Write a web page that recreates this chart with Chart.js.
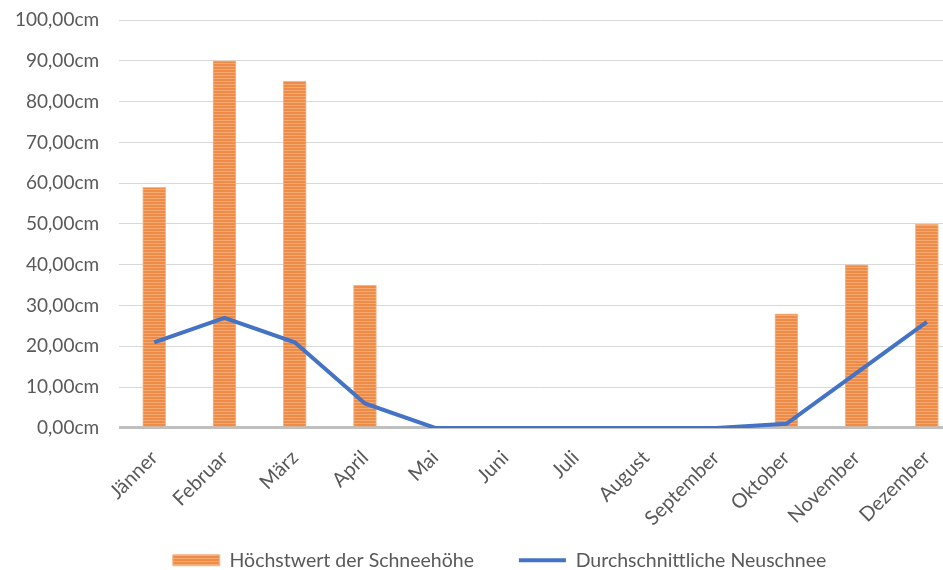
<!DOCTYPE html>
<html>
<head>
<meta charset="utf-8">
<script src="https://cdn.jsdelivr.net/npm/chart.js@4.4.1/dist/chart.umd.min.js"></script>
<style>
  html, body { margin: 0; padding: 0; background: #fff; overflow: hidden; }
  #wrap { width: 962px; height: 570px; }
</style>
</head>
<body>
<div id="wrap"><canvas id="chart" width="962" height="570"></canvas></div>
<script>
const months = ['Jänner', 'Februar', 'März', 'April', 'Mai', 'Juni', 'Juli', 'August', 'September', 'Oktober', 'November', 'Dezember'];
const maxSnowDepth = [59, 90, 85, 35, 0, 0, 0, 0, 0, 28, 40, 50];
const avgNewSnow = [21, 27, 21, 6, 0, 0, 0, 0, 0, 1, 13.5, 26];
const yTicks = [0, 10, 20, 30, 40, 50, 60, 70, 80, 90, 100];

const fontFamily = 'Lato, "Open Sans", sans-serif';
const textColor = '#595959';
const LEGEND_TRIM = 35;
const LEGEND_SHIFT = 11;

function stripes() {
    const c = document.createElement('canvas');
    c.width = 4;
    c.height = 3;
    const g = c.getContext('2d');
    g.fillStyle = '#ee8b47';
    g.fillRect(0, 0, 4, 3);
    g.fillStyle = '#f4aa72';
    g.fillRect(0, 0, 4, 1);
    return g.createPattern(c, 'repeat');
}

// legend: wide gap between items but less room above/below them
const legendGap = {
    id: 'legendGap',
    beforeLayout(chart) {
        const lg = chart.legend;
        if (!lg || lg._gapPatched) return;
        lg._gapPatched = true;
        const fit = lg.fit, draw = lg.draw;
        lg.fit = function () { fit.call(this); this.height -= LEGEND_TRIM + 10; };
        lg.draw = function () {
            this.top -= LEGEND_TRIM;
            this.left += LEGEND_SHIFT;
            this.right += LEGEND_SHIFT;
            draw.call(this);
            this.top += LEGEND_TRIM;
            this.left -= LEGEND_SHIFT;
            this.right -= LEGEND_SHIFT;
        };
    }
};

document.addEventListener('DOMContentLoaded', () => {
    const canvas = document.getElementById('chart');
    const pattern = stripes();

    new Chart(canvas, {
        data: {
            labels: months,
            datasets: [{
                type: 'bar',
                label: 'Höchstwert der Schneehöhe',
                data: maxSnowDepth,
                backgroundColor: pattern,
                borderColor: '#f5b98c',
                borderWidth: 1,
                barThickness: 23,
                pointStyle: 'rect',
                order: 1
            }, {
                type: 'line',
                label: 'Durchschnittliche Neuschnee',
                data: avgNewSnow,
                borderColor: '#4472c4',
                backgroundColor: '#4472c4',
                borderWidth: 4,
                pointRadius: 0,
                pointStyle: 'line',
                tension: 0,
                order: 0
            }]
        },
        options: {
            responsive: false,
            animation: false,
            devicePixelRatio: 1,
            layout: { padding: { left: 15, top: 20, right: 0, bottom: 0 } },
            plugins: {
                tooltip: { enabled: false },
                legend: {
                    position: 'bottom',
                    labels: {
                        usePointStyle: true,
                        pointStyleWidth: 47,
                        boxHeight: 11,
                        padding: 45,
                        color: textColor,
                        font: { family: fontFamily, size: 19.5 },
                        sort: (a, b) => a.datasetIndex - b.datasetIndex
                    }
                }
            },
            scales: {
                x: {
                    offset: true,
                    grid: { display: false },
                    border: { display: false },
                    ticks: {
                        color: textColor,
                        font: { family: fontFamily, size: 20 },
                        minRotation: 45,
                        maxRotation: 45,
                        padding: 10
                    }
                },
                y: {
                    min: 0,
                    max: 100,
                    afterBuildTicks: (axis) => { axis.ticks = yTicks.map(v => ({ value: v })); },
                    border: { display: false },
                    grid: {
                        drawTicks: true,
                        tickLength: 20,
                        tickColor: 'rgba(0,0,0,0)',
                        color: (ctx) => ctx.tick && ctx.tick.value === 0 ? '#bfbfbf' : '#d9d9d9',
                        lineWidth: (ctx) => ctx.tick && ctx.tick.value === 0 ? 3 : 1
                    },
                    ticks: {
                        color: textColor,
                        font: { family: fontFamily, size: 19 },
                        padding: 0,
                        callback: (v) => v.toFixed(2).replace('.', ',') + 'cm'
                    }
                }
            }
        },
        plugins: [legendGap]
    });
});
</script>
</body>
</html>
